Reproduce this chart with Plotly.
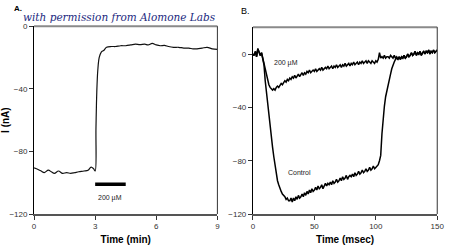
import plotly.graph_objects as go

# ---------------- Panel A data (time in min, current in nA) ----------------
a_time = [0.0, 0.2, 0.35, 0.5, 0.7, 0.85, 1.0, 1.2, 1.4, 1.6, 1.8, 2.0, 2.2, 2.45, 2.65, 2.8, 2.92, 3.0,
          3.04, 3.08, 3.13, 3.2, 3.3, 3.42, 3.56, 3.8, 4.0, 4.25, 4.5, 4.75, 4.97, 5.2, 5.44, 5.6, 5.8,
          6.0, 6.2, 6.4, 6.6, 6.85, 7.1, 7.35, 7.6, 7.8, 8.0, 8.25, 8.5, 8.75, 9.0]
a_current = [-90.5, -91.5, -92.5, -93.5, -92.0, -93.0, -94.0, -92.5, -94.0, -93.5, -94.0, -93.5, -93.0, -92.5,
             -92.0, -90.0, -91.0, -92.5,
             -65.0, -42.0, -28.0, -20.0, -16.5, -15.5, -13.5, -13.0, -13.0, -12.5, -12.5, -12.0, -11.5,
             -11.8, -11.5, -12.0, -11.0, -12.0, -12.5, -12.3, -13.0, -13.5, -13.5, -14.0, -14.0, -14.5,
             -14.5, -14.0, -13.5, -14.5, -14.8]
a_xticks = [0, 3, 6, 9]
a_yticks = [0, -40, -80, -120]
bar_time = [3.0, 4.5]
bar_level = [-101, -101]

# ---------------- Panel B data (time in msec, current in nA) ----------------
b_time = list(range(0, 151))
b_control = [
    0, -1, 2, -2, 4, 2, -1, 1, -3, -8,
    -20, -29, -38, -47, -55, -63, -70, -77, -84, -90,
    -95, -98, -101, -103, -105, -106, -107, -109, -108, -110,
    -110, -108, -111, -108, -110, -107, -109, -106, -108, -107,
    -105, -107, -104, -106, -103, -105, -102, -104, -101, -103,
    -102, -100, -102, -99, -101, -100, -98, -101, -99, -97,
    -99, -97, -98, -96, -98, -95, -97, -96, -94, -96,
    -95, -93, -95, -92, -94, -93, -91, -94, -92, -91,
    -92, -90, -92, -89, -91, -90, -88, -90, -89, -87,
    -89, -88, -86, -88, -87, -85, -87, -86, -84, -86,
    -85, -84, -83, -80, -76, -60, -46, -39, -32, -27,
    -22, -18, -15, -11, -8, -6, -4, -3, -4, -2,
    -4, -2, -3, -1, -3, -2, 0, -2, -1, 1,
    -1, 0, 2, -1, 1, 0, 2, -1, 1, 2,
    0, 2, 1, 3, 0, 2, 1, 3, 1, 2,
    3]
b_200uM = [
    0, -1, 2, -2, 4, 2, -1, 1, -3, -7,
    -12, -16, -20, -23, -25, -26, -27, -26, -27, -25,
    -24, -25, -23, -22, -23, -21, -20, -21, -19, -20,
    -18, -19, -17, -18, -16, -18, -16, -15, -17, -15,
    -14, -16, -14, -15, -13, -14, -12, -14, -13, -12,
    -13, -11, -13, -12, -11, -12, -10, -12, -11, -10,
    -11, -9, -11, -10, -9, -11, -9, -10, -8, -10,
    -9, -8, -10, -8, -9, -7, -9, -8, -7, -9,
    -7, -8, -6, -8, -7, -6, -8, -6, -7, -5,
    -7, -6, -5, -7, -5, -6, -7, -5, -6, -7,
    -5, -6, -4, 1, -3, -2, -3, -1, -3, -2,
    -2, -3, -1, -2, -3, -1, -3, -2, -4, -2,
    -4, -2, -3, -1, -3, -2, 0, -2, -1, 1,
    -1, 0, 2, -1, 1, 0, 2, -1, 1, 2,
    0, 2, 1, 3, 0, 2, 1, 3, 1, 2,
    3]
b_xticks = [0, 50, 100, 150]
b_yticks = [0, -40, -80, -120]

W, H = 450, 247
def px(x):
    return x / W
def py(y):
    return 1 - y / H

fig = go.Figure()
fig.add_trace(go.Scatter(x=a_time, y=a_current, mode="lines", line=dict(color="#111", width=1.2, shape="spline"),
                         xaxis="x", yaxis="y", showlegend=False))
fig.add_trace(go.Scatter(x=bar_time, y=bar_level, mode="lines", line=dict(color="#000", width=3.5),
                         xaxis="x", yaxis="y", showlegend=False))
fig.add_trace(go.Scatter(x=b_time, y=b_control, mode="lines", line=dict(color="#000", width=1.5),
                         xaxis="x2", yaxis="y2", showlegend=False))
fig.add_trace(go.Scatter(x=b_time, y=b_200uM, mode="lines", line=dict(color="#000", width=1.5),
                         xaxis="x2", yaxis="y2", showlegend=False))

tickfont = dict(family="Liberation Sans, Arial", size=8, color="#333")
titlefont = dict(family="Liberation Sans, Arial", size=10, color="#000")
common_x = dict(showline=True, linecolor="#555", linewidth=1.5, ticks="outside", ticklen=4, tickcolor="#333",
                showgrid=False, zeroline=False, tickfont=tickfont)
common_y = dict(showline=True, linecolor="#000", linewidth=1, ticks="outside", ticklen=4, tickcolor="#333",
                showgrid=False, zeroline=False, tickfont=tickfont)

fig.update_layout(
    width=W, height=H, margin=dict(l=0, r=0, t=0, b=0),
    paper_bgcolor="white", plot_bgcolor="white",
    xaxis=dict(domain=[px(24), px(215)], range=[0, 9], tickvals=a_xticks, anchor="y",
               title=dict(text="<b>Time (min)</b>", font=titlefont, standoff=6), **common_x),
    yaxis=dict(domain=[py(218), py(23)], range=[-120, 0], tickvals=a_yticks, anchor="x",
               title=dict(text="<b>I (nA)</b>", font=titlefont, standoff=2), **common_y),
    xaxis2=dict(domain=[px(252), px(444)], range=[0, 150], tickvals=b_xticks, anchor="y2",
                title=dict(text="<b>Time (msec)</b>", font=titlefont, standoff=6), **common_x),
    yaxis2=dict(domain=[py(218), py(24)], range=[-120, 20.2], tickvals=b_yticks, anchor="x2", **common_y),
)

shapes = []
for xa, ya in (("x", "y"), ("x2", "y2")):
    shapes.append(dict(type="line", xref=xa + " domain", yref=ya + " domain", x0=0, x1=1, y0=1, y1=1,
                       line=dict(color="#8a8a8a", width=2)))
    shapes.append(dict(type="line", xref=xa + " domain", yref=ya + " domain", x0=1, x1=1, y0=0, y1=1,
                       line=dict(color="#333", width=1)))
fig.update_layout(shapes=shapes)

small = dict(family="Liberation Sans, Arial", size=7, color="#222")
annotations = [
    dict(text="<b>A.</b>", x=px(1), y=py(5), xref="paper", yref="paper", xanchor="left", yanchor="middle",
         showarrow=False, font=dict(family="Liberation Sans, Arial", size=8, color="#000")),
    dict(text="B.", x=px(237), y=py(7), xref="paper", yref="paper", xanchor="left", yanchor="middle",
         showarrow=False, font=dict(family="Liberation Sans, Arial", size=9, color="#000")),
    dict(text="<i>with permission from Alomone Labs</i>", x=px(10), y=py(13), xref="paper", yref="paper",
         xanchor="left", yanchor="middle", showarrow=False,
         font=dict(family="DejaVu Serif", size=10.5, color="#1c2a80")),
    dict(text="200 \u00b5M", x=3.75, y=-110, xref="x", yref="y", showarrow=False, font=small),
    dict(text="200 \u00b5M", x=27, y=-6.5, xref="x2", yref="y2", showarrow=False, font=small),
    dict(text="Control", x=37.5, y=-89, xref="x2", yref="y2", showarrow=False, font=small),
]
fig.update_layout(annotations=annotations)

fig.write_html("out.html")
